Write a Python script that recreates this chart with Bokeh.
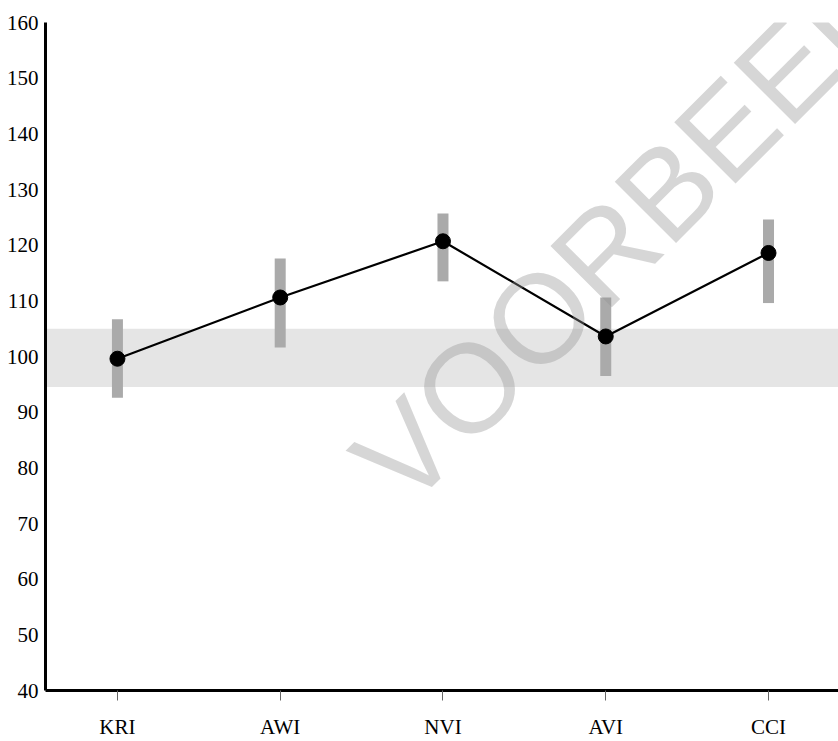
import math
from bokeh.plotting import figure
from bokeh.models import Range1d, FixedTicker, BoxAnnotation, Label, ColumnDataSource
from bokeh.embed import file_html
from bokeh.resources import INLINE

# ---- data ----
categories = ["KRI", "AWI", "NVI", "AVI", "CCI"]
means = [99.6, 110.6, 120.7, 103.6, 118.6]
lower = [92.6, 101.6, 113.5, 96.5, 109.6]
upper = [106.7, 117.6, 125.7, 110.6, 124.6]
band_low, band_high = 94.5, 105.0
y_ticks = [40, 50, 60, 70, 80, 90, 100, 110, 120, 130, 140, 150, 160]
watermark = "VOORBEELD"

xs = list(range(len(categories)))
src = ColumnDataSource(dict(x=xs, m=means, lo=lower, hi=upper))

p = figure(
    width=838, height=741,
    x_range=Range1d(-0.442, 4.43), y_range=Range1d(40, 160),
    output_backend="svg", toolbar_location=None,
    min_border_top=22, min_border_left=45, min_border_right=0, min_border_bottom=46,
)
p.outline_line_color = None
p.xgrid.visible = False
p.ygrid.visible = False
p.background_fill_color = "white"
p.border_fill_color = "white"

band = BoxAnnotation(bottom=band_low, top=band_high, fill_color="#e5e5e5",
                     fill_alpha=1.0, line_color=None, level="underlay")
p.add_layout(band)

p.segment(x0="x", y0="lo", x1="x", y1="hi", source=src,
          line_color="#aaaaaa", line_width=11, line_cap="butt")
p.line(x="x", y="m", source=src, line_color="black", line_width=2.2)
p.scatter(x="x", y="m", source=src, size=15, fill_color="black", line_color="black")

# axes
xa = p.xaxis[0]
xa.ticker = FixedTicker(ticks=xs)
xa.major_label_overrides = {i: c for i, c in enumerate(categories)}
xa.axis_line_color = "black"
xa.axis_line_width = 3
xa.major_tick_out = 10
xa.major_tick_in = 0
xa.major_tick_line_color = "#666666"
xa.major_tick_line_width = 1
xa.minor_tick_line_color = None
xa.major_label_standoff = 14
xa.major_label_text_font = "Liberation Serif"
xa.major_label_text_font_size = "21px"
xa.major_label_text_color = "black"

ya = p.yaxis[0]
ya.ticker = FixedTicker(ticks=y_ticks)
ya.axis_line_color = "black"
ya.axis_line_width = 3
ya.major_tick_out = 0
ya.major_tick_in = 0
ya.minor_tick_line_color = None
ya.major_label_standoff = 7
ya.major_label_text_font = "Liberation Serif"
ya.major_label_text_font_size = "21px"
ya.major_label_text_color = "black"

wm = Label(x=3.29, y=127.3, text=watermark, angle=math.radians(45),
           text_font="Liberation Sans", text_font_size="126px",
           text_color="#949494", text_alpha=0.38,
           text_align="center", text_baseline="middle")
p.add_layout(wm)

open("out.html", "w").write(file_html(p, INLINE))
